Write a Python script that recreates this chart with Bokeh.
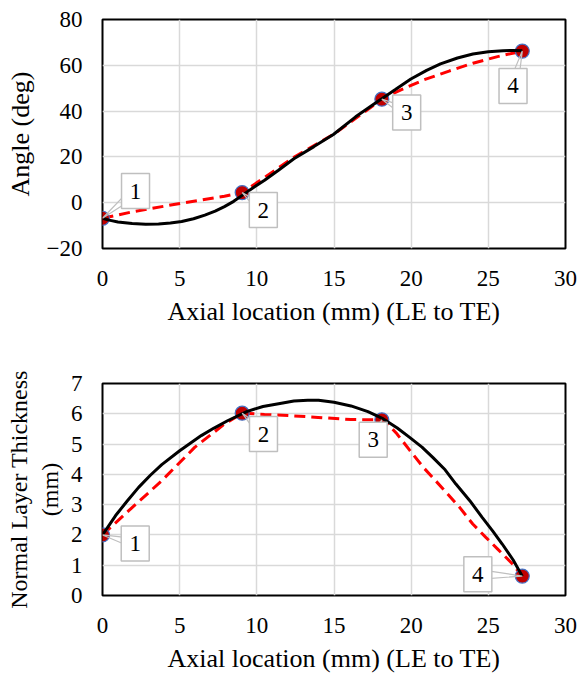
import math
from bokeh.plotting import figure
from bokeh.layouts import column
from bokeh.models import Range1d, FixedTicker
from bokeh.embed import file_html
from bokeh.resources import INLINE
from bokeh.core.properties import value

# ---------------- data ----------------
point_x = [0, 9.05, 18.1, 27.2]
point_labels = ["1", "2", "3", "4"]

angle_pts = [-6.8, 4.4, 45.2, 66.2]
thick_pts = [2.0, 6.02, 5.8, 0.64]

# black trend curve (angle)
angle_fit_x = [0, 0.43, 1.0, 1.92, 2.8, 3.63, 4.4, 5.13, 5.9, 6.63, 7.3, 7.9, 8.5,
               9.05, 9.83, 10.5, 11.4, 12.4, 13.7, 14.96, 16.4, 17.9, 18.1, 19.0,
               19.98, 21.0, 21.9, 23.0, 24.0, 25.0, 25.96, 26.6, 27.2]
angle_fit_y = [-6.8, -7.6, -8.4, -9.1, -9.4, -9.3, -8.9, -8.2, -7.0, -5.4, -3.7, -1.7, 0.6,
               3.2, 6.9, 9.8, 14.2, 19.2, 24.5, 29.8, 37.5, 44.5, 45.4, 49.5,
               54.0, 57.8, 60.6, 63.2, 64.9, 65.9, 66.4, 66.5, 66.3]

# red smoothed line (angle)
angle_smooth_x = [0, 1.92, 5.13, 7.9, 9.05, 12.4, 15.0, 18.1, 19.3, 20.8, 22.5, 24.0, 25.6, 27.2]
angle_smooth_y = [-6.8, -4.0, -0.2, 2.8, 4.4, 19.8, 30.0, 45.2, 49.2, 53.6, 57.6, 60.9, 63.8, 66.2]

# black trend curve (thickness)
thick_fit_x = [0, 0.85, 1.6, 2.34, 3.1, 3.84, 5.0, 6.4, 7.2, 8.1, 9.38, 10.4, 11.5, 12.4,
               13.3, 14.0, 15.0, 16.1, 17.2, 18.2, 19.1, 19.9, 20.7, 21.4, 22.2, 22.9,
               23.8, 24.6, 25.3, 25.9, 26.6, 27.2]
thick_fit_y = [2.0, 2.64, 3.12, 3.57, 3.97, 4.32, 4.78, 5.28, 5.52, 5.77, 6.08, 6.24, 6.34, 6.42,
               6.45, 6.45, 6.38, 6.26, 6.07, 5.83, 5.53, 5.22, 4.90, 4.56, 4.15, 3.68,
               3.13, 2.58, 2.12, 1.70, 1.18, 0.64]

# red smoothed line (thickness)
thick_smooth_x = [0, 1.7, 3.84, 5.97, 7.9, 9.05, 10.5, 12.4, 13.97, 16.1, 18.1, 18.6, 19.09,
                  19.9, 20.79, 22.07, 23.14, 23.99, 24.84, 25.59, 26.55, 27.2]
thick_smooth_y = [2.0, 2.8, 3.79, 4.89, 5.66, 6.02, 5.98, 5.93, 5.88, 5.81, 5.8, 5.6, 5.33,
                  4.8, 4.23, 3.52, 2.91, 2.36, 1.92, 1.54, 1.05, 0.64]

x_ticks = [0, 5, 10, 15, 20, 25, 30]
angle_ticks = [-20, 0, 20, 40, 60, 80]
thick_ticks = [0, 1, 2, 3, 4, 5, 6, 7]

# label box positions (layout, data coords)
angle_lab_x = [2.14, 10.42, 19.71, 26.6]
angle_lab_y = [5.1, -3.2, 39.4, 51.0]
thick_lab_x = [2.12, 10.43, 17.54, 24.32]
thick_lab_y = [1.72, 5.33, 5.14, 0.70]

FONT = "Liberation Serif"


def style(p, yticks):
    p.outline_line_color = "black"
    p.outline_line_width = 2
    p.xaxis.ticker = FixedTicker(ticks=x_ticks)
    p.yaxis.ticker = FixedTicker(ticks=yticks)
    p.axis.axis_line_color = None
    p.axis.major_tick_line_color = None
    p.axis.minor_tick_line_color = None
    p.axis.major_tick_in = 0
    p.axis.major_tick_out = 0
    p.axis.minor_tick_in = 0
    p.axis.minor_tick_out = 0
    p.axis.major_label_text_font = FONT
    p.axis.major_label_text_font_size = "23px"
    p.axis.major_label_text_color = "black"
    p.axis.axis_label_text_font = FONT
    p.axis.axis_label_text_font_style = "normal"
    p.axis.axis_label_text_color = "black"
    p.xaxis.major_label_standoff = 22
    p.yaxis.major_label_standoff = 20
    p.xgrid.grid_line_color = "#D9D9D9"
    p.ygrid.grid_line_color = "#D9D9D9"
    p.xgrid.grid_line_width = 1.5
    p.ygrid.grid_line_width = 1.5
    p.background_fill_color = "white"
    p.border_fill_color = "white"


def wedges(pts_y, lab_x, lab_y, sx, sy, half=5.0):
    """callout pointer triangles: from the point to a short base inside the label box"""
    xs, ys = [], []
    for px, py, lx, ly in zip(point_x, pts_y, lab_x, lab_y):
        dx = (lx - px) * sx
        dy = (ly - py) * sy
        d = math.hypot(dx, dy) or 1.0
        nx, ny = -dy / d * half, dx / d * half
        xs.append([px, lx + nx / sx, lx - nx / sx])
        ys.append([py, ly + ny / sy, ly - ny / sy])
    return xs, ys


def draw(p, fit_x, fit_y, sm_x, sm_y, pts_y, lab_x, lab_y, sx, sy):
    p.line(sm_x, sm_y, line_color="#FF0000", line_width=3, line_dash="11 6")
    p.scatter(point_x, pts_y, marker="circle", size=14, fill_color="#C00000",
              line_color="#4472C4", line_width=1.2)
    p.line(fit_x, fit_y, line_color="black", line_width=3)
    wx, wy = wedges(pts_y, lab_x, lab_y, sx, sy)
    p.patches(wx, wy, fill_color=None, line_color="#BFBFBF", line_width=1.2)
    p.rect(x=lab_x, y=lab_y, width=28, height=35, width_units="screen", height_units="screen",
           fill_color="white", line_color="#BFBFBF", line_width=1.5)
    p.text(x=lab_x, y=lab_y, text=point_labels, text_font=value(FONT), text_font_size="23px",
           text_align="center", text_baseline="middle", text_color="black")


p1 = figure(width=581, height=345, output_backend="svg", toolbar_location=None,
            x_range=Range1d(0, 30), y_range=Range1d(-20, 80),
            min_border_left=98, min_border_right=16, min_border_top=19, min_border_bottom=97)
style(p1, angle_ticks)
p1.xaxis.axis_label = "Axial location (mm) (LE to TE)"
p1.yaxis.axis_label = "Angle (deg)"
p1.xaxis.axis_label_text_font_size = "26px"
p1.yaxis.axis_label_text_font_size = "26px"
p1.xaxis.axis_label_standoff = 8
p1.yaxis.axis_label_standoff = 9
draw(p1, angle_fit_x, angle_fit_y, angle_smooth_x, angle_smooth_y, angle_pts,
     angle_lab_x, angle_lab_y, 467 / 30, 229 / 100)

p2 = figure(width=581, height=332, output_backend="svg", toolbar_location=None,
            x_range=Range1d(0, 30), y_range=Range1d(0, 7),
            min_border_left=102, min_border_right=10, min_border_top=38, min_border_bottom=82)
style(p2, thick_ticks)
p2.xaxis.axis_label = "Axial location (mm) (LE to TE)"
p2.yaxis.axis_label = "Normal Layer Thickness\n(mm)"
p2.xaxis.axis_label_text_font_size = "26px"
p2.yaxis.axis_label_text_font_size = "24px"
p2.xaxis.axis_label_standoff = 8
p2.yaxis.axis_label_standoff = 5
draw(p2, thick_fit_x, thick_fit_y, thick_smooth_x, thick_smooth_y, thick_pts,
     thick_lab_x, thick_lab_y, 469 / 30, 212 / 7)

layout = column(p1, p2, spacing=0)
open("out.html", "w").write(file_html(layout, INLINE))
